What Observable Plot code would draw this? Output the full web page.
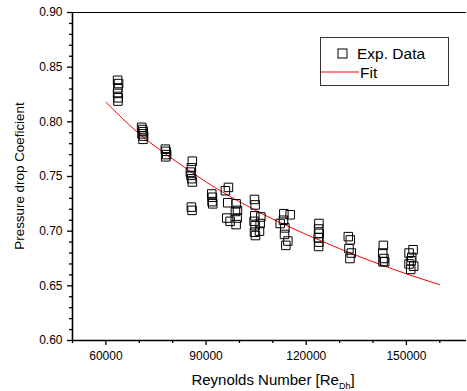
<!DOCTYPE html>
<html><head><meta charset="utf-8">
<script src="https://cdn.jsdelivr.net/npm/d3@7"></script>
<script src="https://cdn.jsdelivr.net/npm/@observablehq/plot@0.6"></script>
<style>
html,body{margin:0;padding:0;background:#fff;}
#wrap{position:relative;width:467px;height:391px;font-family:"Liberation Sans",Arial,sans-serif;}
#legend{position:absolute;left:320px;top:37px;width:127px;height:47px;border:1px solid #333;background:#fff;color:#000;}
</style>
</head><body>
<div id="wrap"><div id="legend"></div></div>
<script>
// Experimental data: Reynolds number and pressure drop coefficient
const reynolds = [
  63500,63800,63600,63500,63700,63600,
  70700,71000,71200,70800,71300,71100,
  77800,78000,78200,77900,
  85900,85600,85300,85500,85700,85900,85600,85800,
  91700,91900,91800,92000,
  96700,95800,96500,99000,98800,99400,96200,97200,99300,99000,
  104500,104700,104600,104400,104700,104500,104800,106400,106200,106000,
  113300,115200,113200,112200,113600,113500,114500,113900,
  123800,123700,123900,123600,123800,123700,
  132600,133200,132800,133500,133100,
  143100,142900,143300,143000,143500,
  152000,150800,151600,151400,150800,152200,151300
];
const coefficient = [
  0.838,0.835,0.831,0.826,0.822,0.819,
  0.795,0.793,0.791,0.789,0.787,0.784,
  0.775,0.773,0.770,0.768,
  0.764,0.758,0.754,0.751,0.748,0.745,0.722,0.719,
  0.734,0.731,0.727,0.725,
  0.740,0.737,0.726,0.725,0.718,0.719,0.712,0.709,0.712,0.706,
  0.729,0.724,0.714,0.709,0.705,0.699,0.696,0.713,0.707,0.700,
  0.716,0.715,0.710,0.707,0.703,0.697,0.691,0.687,
  0.707,0.702,0.698,0.694,0.690,0.686,
  0.695,0.692,0.684,0.680,0.675,
  0.687,0.680,0.675,0.672,0.672,
  0.683,0.680,0.676,0.673,0.670,0.668,0.665
];
// Fit curve
const fitRe = [60000,70000,80000,90000,100000,110000,120000,130000,140000,150000,160000];
const fitCp = [0.818,0.789,0.766,0.745,0.727,0.711,0.697,0.684,0.672,0.661,0.651];

const xDomain = [50000, 168000];
const yDomain = [0.60, 0.90];
const xMajor = [60000, 90000, 120000, 150000];
const xMinor = [50000,70000,80000,100000,110000,130000,140000,160000];
const yMajor = [0.60,0.65,0.70,0.75,0.80,0.85,0.90];
const yMinor = [0.61,0.62,0.63,0.64,0.66,0.67,0.68,0.69,0.71,0.72,0.73,0.74,0.76,0.77,0.78,0.79,0.81,0.82,0.83,0.84,0.86,0.87,0.88,0.89];
const xTitle = "Reynolds Number [Re";
const xTitleSub = "Dh";
const yTitle = "Pressure drop Coeficient";
const legendLabels = ["Exp. Data", "Fit"];

const points = reynolds.map((r, i) => ({re: r, cp: coefficient[i]}));
const fit = fitRe.map((r, i) => ({re: r, cp: fitCp[i]}));

const chart = Plot.plot({
  width: 467, height: 391,
  marginLeft: 72, marginRight: 1, marginTop: 12, marginBottom: 51,
  style: {fontFamily: '"Liberation Sans", Arial, sans-serif', fontSize: "12px", color: "#000", background: "#fff"},
  x: {domain: xDomain},
  y: {domain: yDomain},
  marks: [
    Plot.axisX({ticks: xMajor, tickSize: 5, tickPadding: 6, tickFormat: d3.format("d"), label: null, fontSize: 12, strokeWidth: 1.3}),
    Plot.axisX({ticks: xMinor, tickSize: 3, text: null, label: null, strokeWidth: 1.3}),
    Plot.axisY({ticks: yMajor, tickSize: 5, tickPadding: 5, tickFormat: ".2f", label: null, fontSize: 12, strokeWidth: 1.3}),
    Plot.axisY({ticks: yMinor, tickSize: 3, text: null, label: null, strokeWidth: 1.3}),
    Plot.ruleY([yDomain[0]], {stroke: "#000", strokeWidth: 1.6}),
    Plot.ruleY([yDomain[1]], {stroke: "#000", strokeWidth: 1.2}),
    Plot.ruleX([xDomain[0]], {stroke: "#000", strokeWidth: 1.6}),
    Plot.line(fit, {x: "re", y: "cp", stroke: "#ff0000", strokeWidth: 1, curve: "natural"}),
    Plot.dot(points, {x: "re", y: "cp", symbol: "square", r: 4.8, stroke: "#000", strokeWidth: 1, fill: "none"})
  ]
});
document.getElementById("wrap").appendChild(chart);

const svg = d3.select(chart);
const xt = svg.append("text")
  .attr("x", 273).attr("y", 385)
  .attr("text-anchor", "middle")
  .attr("font-size", 15)
  .attr("fill", "#000");
xt.append("tspan").text(xTitle);
xt.append("tspan").attr("font-size", 9).attr("dy", 4).text(xTitleSub);
xt.append("tspan").attr("dy", -4).text("]");

svg.append("text")
  .attr("transform", "translate(23.5,176) rotate(-90)")
  .attr("text-anchor", "middle")
  .attr("font-size", 13.4)
  .attr("fill", "#000")
  .text(yTitle);

// legend
const lg = d3.select("#legend").append("svg").attr("width", 127).attr("height", 47);
lg.append("rect").attr("x", 17).attr("y", 11).attr("width", 9).attr("height", 9)
  .attr("fill", "none").attr("stroke", "#000").attr("stroke-width", 1);
lg.append("text").attr("x", 36).attr("y", 21).attr("font-size", 15.5).text(legendLabels[0]);
lg.append("line").attr("x1", 0).attr("x2", 38).attr("y1", 34).attr("y2", 34)
  .attr("stroke", "#ff0000").attr("stroke-width", 1);
lg.append("text").attr("x", 39).attr("y", 40).attr("font-size", 15.5).text(legendLabels[1]);
</script>
</body></html>
